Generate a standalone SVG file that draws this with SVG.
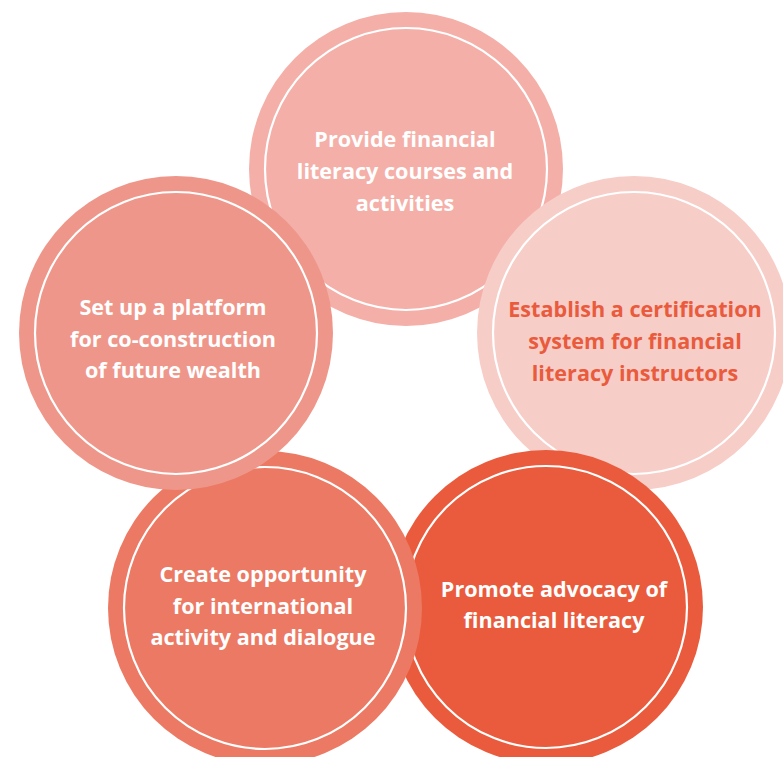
<svg xmlns="http://www.w3.org/2000/svg" width="783" height="757" viewBox="0 0 783 757">
<style>
.ring{fill:none;stroke:#ffffff;stroke-width:2.2}
.t{font-family:"Open Sans",Lato,sans-serif;font-weight:bold;font-size:21.6px;text-anchor:middle;fill:#ffffff}
.t2{fill:#E95B3C}
</style>
<rect width="783" height="757" fill="#ffffff"/>
<g id="node-courses">
<circle cx="406" cy="169" r="157" fill="#F4AFA8"/>
<circle class="ring" cx="406" cy="169" r="141"/>
<text class="t" x="405" y="147">Provide financial</text>
<text class="t" x="405" y="179">literacy courses and</text>
<text class="t" x="405" y="211">activities</text>
</g>
<g id="node-certification">
<circle cx="634" cy="333" r="157" fill="#F7CDC8"/>
<circle class="ring" cx="634" cy="333" r="141"/>
<text class="t t2" x="635" y="317">Establish a certification</text>
<text class="t t2" x="635" y="349">system for financial</text>
<text class="t t2" x="635" y="381">literacy instructors</text>
</g>
<g id="node-advocacy">
<circle cx="546" cy="607" r="157" fill="#E95B3C"/>
<circle class="ring" cx="546" cy="607" r="141"/>
<text class="t" x="554" y="597">Promote advocacy of</text>
<text class="t" x="554" y="628">financial literacy</text>
</g>
<g id="node-international">
<circle cx="265" cy="608" r="157" fill="#EC7963"/>
<circle class="ring" cx="265" cy="608" r="141"/>
<text class="t" x="263" y="582">Create opportunity</text>
<text class="t" x="263" y="614">for international</text>
<text class="t" x="263" y="645">activity and dialogue</text>
</g>
<g id="node-platform">
<circle cx="176" cy="333" r="157" fill="#EF968A"/>
<circle class="ring" cx="176" cy="333" r="141"/>
<text class="t" x="173" y="315">Set up a platform</text>
<text class="t" x="173" y="347">for co-construction</text>
<text class="t" x="173" y="378">of future wealth</text>
</g>
<g id="connectors"/>
</svg>
